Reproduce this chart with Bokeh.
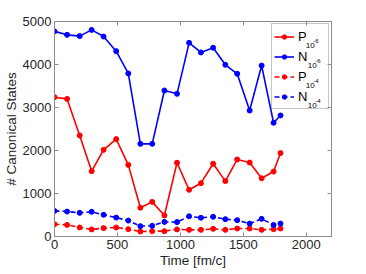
from bokeh.plotting import figure
from bokeh.models import LinearAxis, Legend, LegendItem, FixedTicker, Range1d
from bokeh.core.properties import value
from bokeh.embed import file_html
from bokeh.resources import INLINE

time_fm = [0, 100, 200, 295, 390, 490, 586, 682, 776, 873, 973, 1069, 1163, 1260, 1357, 1451, 1550, 1645, 1740, 1795]
p_1e6 = [3240, 3200, 2350, 1520, 2015, 2265, 1665, 670, 805, 490, 1715, 1086, 1240, 1692, 1288, 1792, 1720, 1355, 1510, 1940]
n_1e6 = [4770, 4690, 4660, 4805, 4650, 4310, 3792, 2155, 2155, 3395, 3318, 4504, 4280, 4390, 3993, 3784, 2930, 3975, 2645, 2815]
p_1e4 = [285, 270, 210, 165, 195, 210, 171, 116, 124, 124, 165, 155, 155, 178, 155, 186, 185, 155, 170, 185]
n_1e4 = [595, 580, 550, 575, 505, 440, 370, 240, 249, 340, 335, 470, 435, 458, 403, 380, 300, 410, 270, 300]

x_ticks = [0, 500, 1000, 1500, 2000]
y_ticks = [0, 1000, 2000, 3000, 4000, 5000]
X_MAX = 2200
Y_MAX = 5000

FONT = "Liberation Sans"
TXT = "#262626"
AX = "#8c8c8c"

FW, FH = 280, 215
p = figure(width=366, height=274, output_backend="svg", toolbar_location=None,
           x_range=Range1d(0, X_MAX), y_range=Range1d(0, Y_MAX),
           min_border_left=51, min_border_right=35, min_border_top=21, min_border_bottom=38)
p.xgrid.visible = False
p.ygrid.visible = False
p.outline_line_color = AX
p.background_fill_color = "white"
p.border_fill_color = "white"

for ax in (p.xaxis[0], p.yaxis[0]):
    ax.major_tick_in = 4
    ax.major_tick_out = 0
    ax.minor_tick_in = 0
    ax.minor_tick_out = 0
    ax.axis_line_color = AX
    ax.major_tick_line_color = AX
    ax.major_label_text_font = FONT
    ax.major_label_text_font_size = "13px"
    ax.major_label_text_color = TXT
    ax.axis_label_text_font = FONT
    ax.axis_label_text_font_size = "13.5px"
    ax.axis_label_text_font_style = "normal"
    ax.axis_label_text_color = TXT
    ax.axis_label_standoff = 1
    ax.major_label_standoff = 3
p.xaxis[0].ticker = FixedTicker(ticks=x_ticks)
p.yaxis[0].ticker = FixedTicker(ticks=y_ticks)
p.xaxis[0].axis_label = "Time [fm/c]"
p.yaxis[0].axis_label = "# Canonical States"

for loc, ticks in (("above", x_ticks), ("right", y_ticks)):
    ax = LinearAxis(ticker=FixedTicker(ticks=ticks))
    ax.major_tick_in = 4
    ax.major_tick_out = 0
    ax.minor_tick_in = 0
    ax.minor_tick_out = 0
    ax.axis_line_color = AX
    ax.major_tick_line_color = AX
    ax.major_label_overrides = {t: "" for t in ticks}
    ax.major_label_text_font_size = "0px"
    ax.major_label_standoff = 0
    p.add_layout(ax, loc)

series = [
    (p_1e6, "red", "solid", "P"),
    (n_1e6, "blue", "solid", "N"),
    (p_1e4, "red", "5 3", "P"),
    (n_1e4, "blue", "5 3", "N"),
]
items = []
for ys, col, dash, lab in series:
    r1 = p.line(time_fm, ys, line_color=col, line_width=1.6, line_dash=dash)
    r2 = p.scatter(time_fm, ys, marker="circle", size=5, fill_color=col, line_color=col)
    items.append(LegendItem(label=lab, renderers=[r1, r2]))

legend = Legend(items=items, location="top_right", margin=2, padding=2, spacing=0,
                glyph_width=20, glyph_height=11, label_height=20, label_width=28,
                label_standoff=4, label_text_font=FONT, label_text_font_size="13px",
                label_text_color="black", border_line_color=AX,
                background_fill_color=None)
p.add_layout(legend, "center")


def dx(px):  # pixels from frame left -> data x
    return px * X_MAX / FW


def dy(py):  # pixels from frame top -> data y
    return (FH - py) * Y_MAX / FH


# subscripts / superscripts of legend labels
sub_x = [254, 256, 254, 256]
sup_x = [261.5, 263.5, 261.5, 263.5]
sub_txt = ["10", "10", "10", "10"]
sup_txt = ["-6", "-6", "-4", "-4"]
rows = [14 + 20 * i for i in range(4)]
p.text(x=[dx(v) for v in sub_x], y=[dy(c + 10) for c in rows], text=sub_txt,
       text_font=value(FONT), text_font_size="8px", text_color="black",
       text_baseline="alphabetic")
p.text(x=[dx(v) for v in sup_x], y=[dy(c + 5.5) for c in rows], text=sup_txt,
       text_font=value(FONT), text_font_size="6px", text_color="black",
       text_baseline="alphabetic")

open("out.html", "w").write(file_html(p, INLINE))
